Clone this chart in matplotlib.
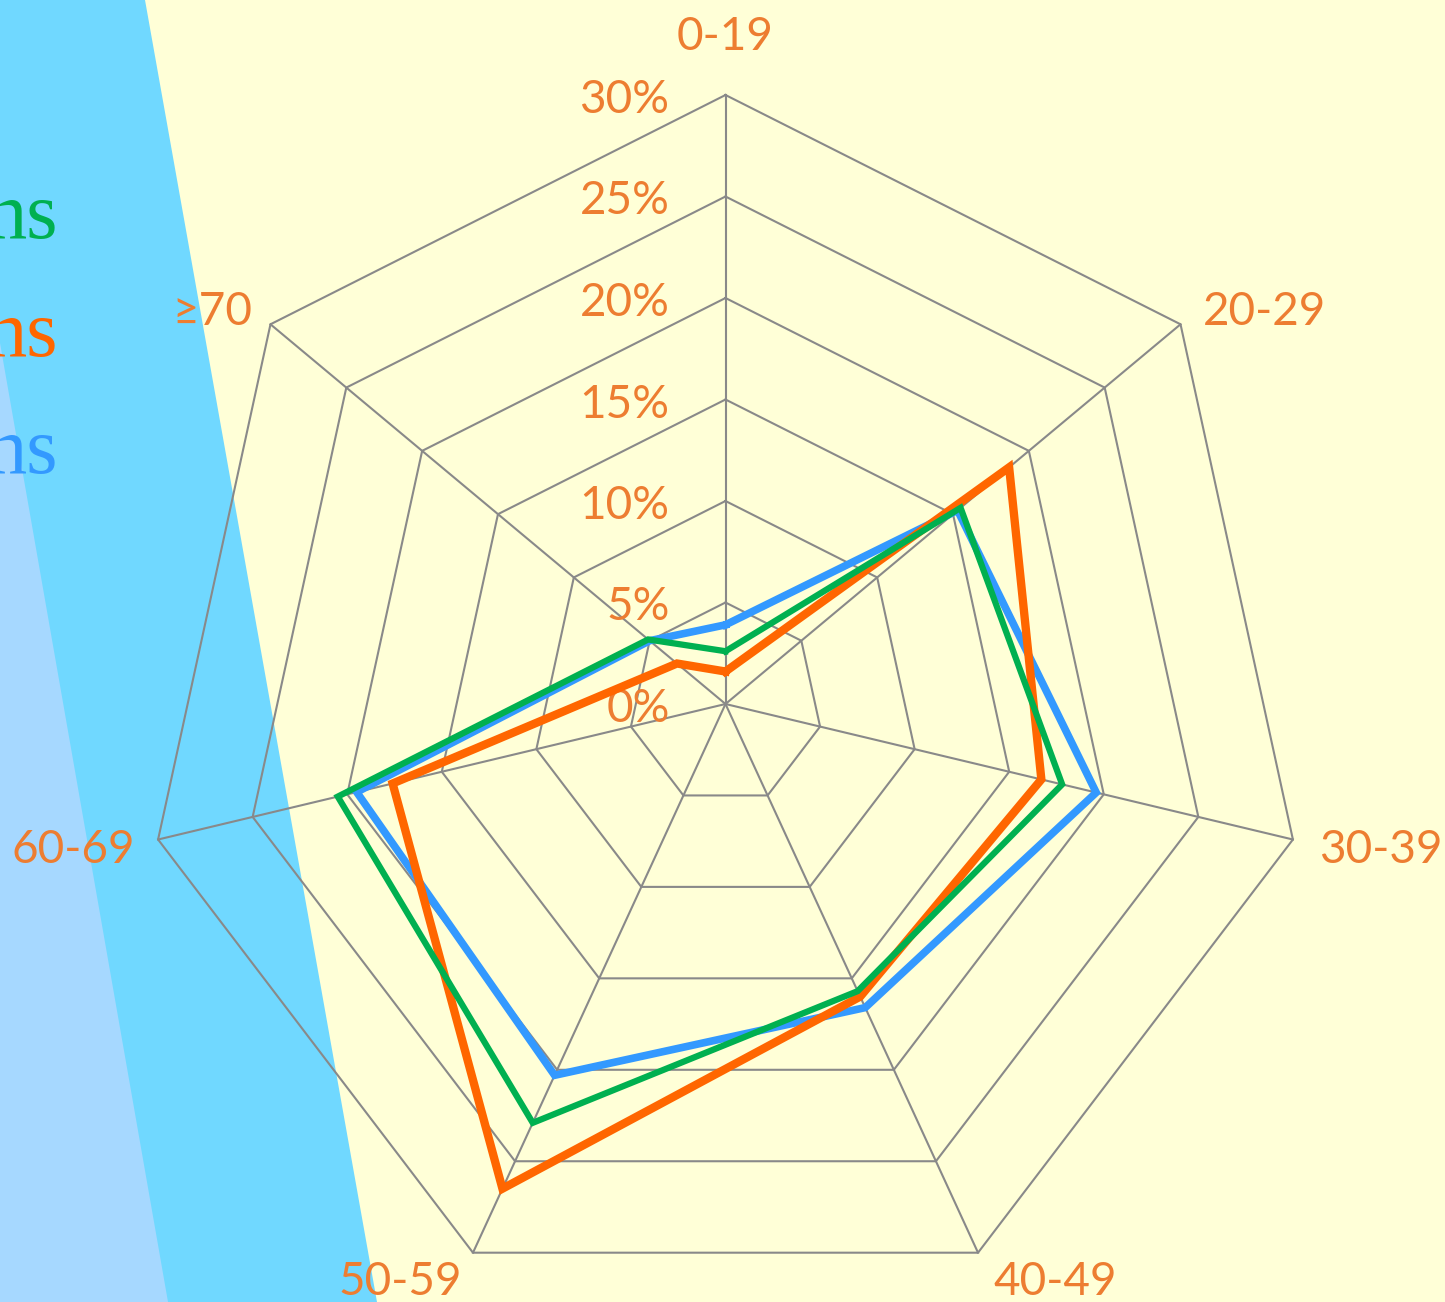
import numpy as np
import matplotlib
matplotlib.use('Agg')
import matplotlib.pyplot as plt

# dados (percentual por faixa etaria)
faixas = ['0-19', '20-29', '30-39', '40-49', '50-59', '60-69', '≥70']
serie_verde = [2.6, 15.5, 17.8, 15.7, 22.9, 20.5, 5.1]
serie_laranja = [1.6, 18.7, 16.7, 16.0, 26.5, 17.6, 3.2]
serie_azul = [3.9, 15.3, 19.6, 16.6, 20.3, 19.5, 5.0]
niveis = [0, 5, 10, 15, 20, 25, 30]
rotulos_niveis = ['0%', '5%', '10%', '15%', '20%', '25%', '30%']
legenda = ['ns', 'ns', 'ns']

cor_grade = '#898989'
cor_texto = '#ED7D31'
cores = {'verde': '#00B050', 'laranja': '#FF6600', 'azul': '#3399FF'}

W, H = 1445, 1302
fig = plt.figure(figsize=(W / 100, H / 100), dpi=100)
ax = fig.add_axes([0, 0, 1, 1])
ax.set_facecolor('#FFFFD7')
fig.patch.set_facecolor('#FFFFD7')

# faixas azuis do fundo (em coordenadas de pixel da figura)
def px(x, y):
  return (x / W, 1 - y / H)

ciano = [px(0, 0), px(145, 0), px(377, H), px(0, H)]
azul_claro = [px(0, 343), px(168, H), px(0, H)]
ax.add_patch(plt.Polygon(ciano, closed=True, transform=ax.transAxes,
                         facecolor='#70D8FF', edgecolor='none', zorder=0))
ax.add_patch(plt.Polygon(azul_claro, closed=True, transform=ax.transAxes,
                         facecolor='#A6D8FF', edgecolor='none', zorder=0))

n = len(faixas)
ang = np.arange(n) * 2 * np.pi / n

def xy(valores):
  v = np.asarray(valores, dtype=float)
  x = v * np.sin(ang)
  y = v * np.cos(ang)
  return np.append(x, x[0]), np.append(y, y[0])

# grade
for nv in niveis[1:]:
  gx, gy = xy([nv] * n)
  ax.plot(gx, gy, color=cor_grade, lw=1.5, zorder=1)
rmax = niveis[-1]
for a in ang:
  ax.plot([0, rmax * np.sin(a)], [0, rmax * np.cos(a)], color=cor_grade, lw=1.5, zorder=1)

# series
for vals, c, lw, z in [(serie_azul, cores['azul'], 5.5, 3),
                       (serie_laranja, cores['laranja'], 6, 4),
                       (serie_verde, cores['verde'], 4.5, 5)]:
  sx, sy = xy(vals)
  ax.plot(sx, sy, color=c, lw=lw, zorder=z, solid_joinstyle='miter')

fonte = 'Lato'
tam = 33

# rotulos dos niveis
for nv, rot in zip(niveis, rotulos_niveis):
  ax.annotate(rot, xy=(0, nv), xytext=(-56, -5), textcoords='offset pixels',
              ha='right', va='center', color=cor_texto, fontsize=tam, family=fonte)

# rotulos das categorias
desloc = [((0, 58), 'center'), ((22, 12), 'left'), ((26, -10), 'left'),
          ((15, -29), 'left'), ((-11, -29), 'right'), ((-23, -10), 'right'),
          ((-18, 12), 'right')]
for k, nome in enumerate(faixas):
  (dx, dy), al = desloc[k]
  ax.annotate(nome, xy=(rmax * np.sin(ang[k]), rmax * np.cos(ang[k])),
              xytext=(dx, dy), textcoords='offset pixels', ha=al, va='center',
              color=cor_texto, fontsize=tam, family=fonte)

# legenda cortada na esquerda
for txt, c, yb in zip(legenda, [cores['verde'], cores['laranja'], cores['azul']], [238, 356, 473]):
  ax.text(58 / W, 1 - yb / H, txt, transform=ax.transAxes, ha='right', va='baseline',
          color=c, fontsize=58, family='Liberation Serif')

# escalas: 30% = 582 px na horizontal e 609 px na vertical
cx, cy = 725.5, 704
sx_, sy_ = 582 / 30, 609 / 30
ax.set_xlim(-cx / sx_, (W - cx) / sx_)
ax.set_ylim(-(H - cy) / sy_, cy / sy_)
ax.axis('off')

plt.savefig('out.png', dpi=100, facecolor=fig.get_facecolor())
